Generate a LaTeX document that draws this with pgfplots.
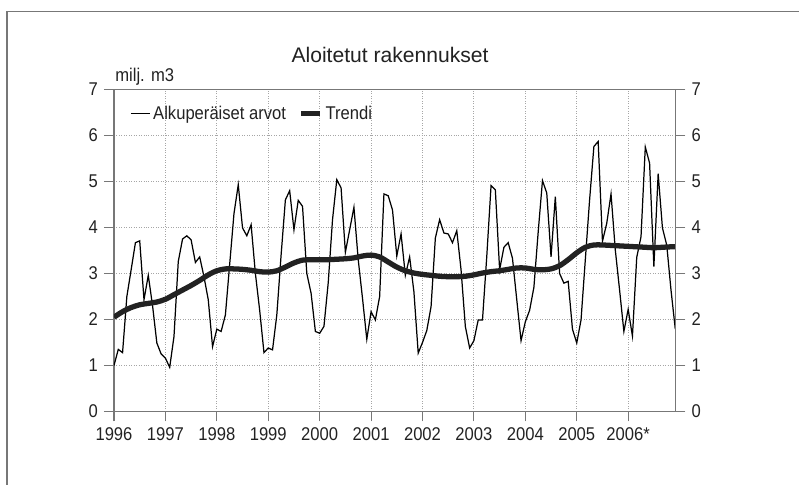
\documentclass[border=0pt]{standalone}
\usepackage{fontspec}
\setmainfont{Liberation Sans}[FakeStretch=0.9]
\newfontfamily\titlefont{Liberation Sans}
\usepackage{pgfplots}
\pgfplotsset{compat=1.18}
\usepackage{pgfplotstable}

% kuukausiarvot, 0 = tammikuu 1996
\pgfplotstableread{
m v
0 1.00
1 1.35
2 1.28
3 2.50
4 3.08
5 3.67
6 3.71
7 2.43
8 2.96
9 2.30
10 1.49
11 1.25
12 1.16
13 0.96
14 1.63
15 3.26
16 3.75
17 3.82
18 3.73
19 3.24
20 3.36
21 2.93
22 2.43
23 1.41
24 1.79
25 1.74
26 2.10
27 3.20
28 4.30
29 4.93
30 3.99
31 3.82
32 4.06
33 3.00
34 2.20
35 1.28
36 1.38
37 1.34
38 2.10
39 3.40
40 4.60
41 4.80
42 3.95
43 4.59
44 4.46
45 3.00
46 2.57
47 1.74
48 1.70
49 1.85
50 2.80
51 4.17
52 5.04
53 4.86
54 3.46
55 3.95
56 4.44
57 3.30
58 2.46
59 1.57
60 2.17
61 1.99
62 2.50
63 4.73
64 4.69
65 4.38
66 3.38
67 3.86
68 2.96
69 3.36
70 2.60
71 1.27
72 1.50
73 1.76
74 2.28
75 3.77
76 4.17
77 3.88
78 3.86
79 3.67
80 3.93
81 3.08
82 1.85
83 1.38
84 1.54
85 1.99
86 1.99
87 3.37
88 4.91
89 4.82
90 3.08
91 3.57
92 3.67
93 3.33
94 2.43
95 1.54
96 1.95
97 2.20
98 2.70
99 3.90
100 5.02
101 4.75
102 3.36
103 4.67
104 3.00
105 2.79
106 2.83
107 1.79
108 1.49
109 1.99
110 3.30
111 4.60
112 5.76
113 5.87
114 3.70
115 4.09
116 4.73
117 3.51
118 2.64
119 1.74
120 2.22
121 1.64
122 3.35
123 3.80
124 5.75
125 5.40
126 3.15
127 5.17
128 3.99
129 3.62
130 2.64
131 1.79
}\orig

\pgfplotstableread{
m v
0 2.05
2 2.17
4 2.26
6 2.32
8 2.35
10 2.38
12 2.44
14 2.54
16 2.64
18 2.74
20 2.85
22 2.97
24 3.06
26 3.10
28 3.10
30 3.09
32 3.07
34 3.04
36 3.03
38 3.06
40 3.14
42 3.23
44 3.29
46 3.30
48 3.30
50 3.30
52 3.31
54 3.32
56 3.34
58 3.38
60 3.40
62 3.36
64 3.25
66 3.14
68 3.06
70 3.01
72 2.98
74 2.96
76 2.94
78 2.93
80 2.93
82 2.94
84 2.97
86 3.01
88 3.04
90 3.06
92 3.09
94 3.12
96 3.12
98 3.09
100 3.08
102 3.10
104 3.17
106 3.30
108 3.45
110 3.57
112 3.62
114 3.62
116 3.61
118 3.60
120 3.59
122 3.58
124 3.57
126 3.56
128 3.57
130 3.58
131 3.58
}\trend

\definecolor{ink}{HTML}{222222}
\definecolor{thin}{HTML}{666666}
\definecolor{frame}{HTML}{777777}

\pgfplotsset{
  common/.style={
    at={(2.28cm,1.47cm)}, anchor=south west,
    scale only axis, width=11.226cm, height=6.44cm,
    xmin=0, xmax=131, ymin=0, ymax=7,
    ytick={0,1,...,7},
    tick align=outside,
    major tick length=0.2cm,
    tick style={frame, line width=0.6pt},
    axis line style={frame, line width=0.6pt},
    ticklabel style={font=\fontsize{10.5}{12}\selectfont, text=ink},
    /pgf/number format/assume math mode=true,
  }
}

\begin{document}
\begin{tikzpicture}
\path[use as bounding box] (0,0) rectangle (15.98cm,9.70cm);
\draw[frame, line width=0.8pt] (0.14cm,0) -- (0.14cm,9.47cm) -- (15.98cm,9.47cm);

\begin{axis}[common,
  xtick={0,12,...,120},
  xticklabels={1996,1997,1998,1999,2000,2001,2002,2003,2004,2005,2006*},
  xtick pos=bottom, ytick pos=left,
  grid=major,
  major grid style={densely dotted, gray!70, line width=0.5pt},
  legend style={at={(0.0285,0.925)}, anchor=west, draw=none, fill=none,
    inner sep=0pt, font=\fontsize{10.5}{12}\selectfont, text=ink,
    nodes={inner sep=1.5pt},
    /tikz/every even column/.append style={column sep=0.2cm}},
  legend columns=2,
  legend image code/.code={\draw[#1] (0cm,0cm) -- (0.38cm,0cm);},
]
\addplot[thin, line width=0.7pt] table[x=m, y=v] {\orig};
\addlegendentry{Alkuperäiset arvot}
\addplot[ink, line width=3pt, smooth] table[x=m, y=v] {\trend};
\addlegendentry{Trendi}
\end{axis}

\begin{axis}[common,
  axis x line=none, axis y line*=right,
]
\addplot[draw=none] coordinates {(0,0)};
\end{axis}

\node[font=\titlefont\fontsize{12}{14}\selectfont, text=ink] at (7.8cm,8.6cm) {Aloitetut rakennukset};
\node[font=\fontsize{10.5}{12}\selectfont, text=ink, anchor=base west, inner sep=0pt] at (2.30cm,8.07cm) {milj. m3};
\end{tikzpicture}
\end{document}
